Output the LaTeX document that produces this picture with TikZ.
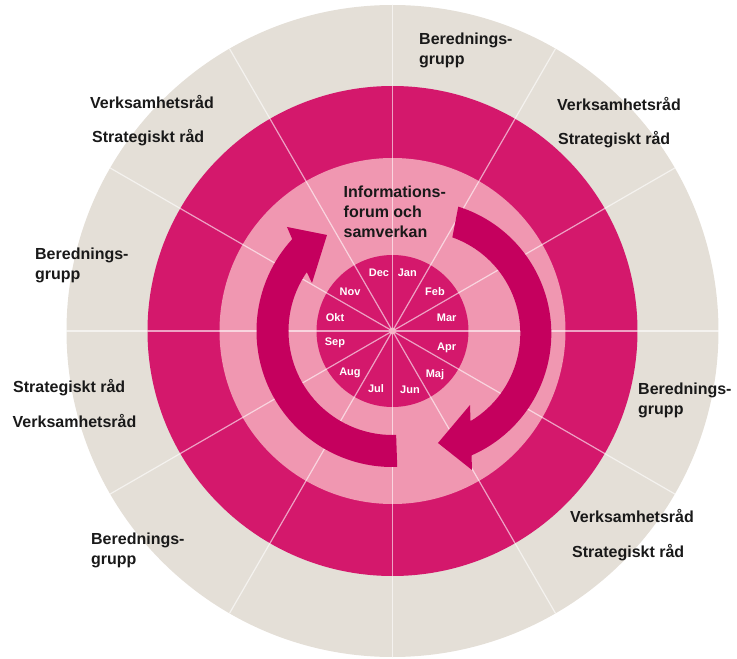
\documentclass[tikz,border=0pt]{standalone}
\usepackage{fontspec}
\setmainfont{Liberation Sans}
\usepackage{tikz}
\definecolor{beige}{HTML}{E4DFD7}
\definecolor{rosa}{HTML}{D4186C}
\definecolor{ljusrosa}{HTML}{F097B1}
\definecolor{pil}{HTML}{C5005E}
\tikzset{
  etikett/.style={anchor=base west, align=left, inner sep=0pt, text=black!90, font=\bfseries\fontsize{16}{20}\selectfont},
  manad/.style={text=white, inner sep=0pt, font=\bfseries\fontsize{11}{13}\selectfont},
  eker/.style={line width=1.2pt, color=white, opacity=0.6}
}

\begin{document}
\begin{tikzpicture}[x=1pt, y=1pt]
		%%%%% START %%%%%
		\useasboundingbox (-392.5, -328) rectangle (344.5, 331);
		
		\fill[beige] (0, 0) circle (326);
		\fill[rosa] (0, 0) circle (245);
		\fill[ljusrosa] (0, 0) circle (173);
		\fill[rosa] (0, 0) circle (76);
		
		% ekrar
		\draw[eker] (0:326) -- (180:326);
		\draw[eker] (30:326) -- (210:326);
		\draw[eker] (60:326) -- (240:326);
		\draw[eker] (90:326) -- (270:326);
		\draw[eker] (120:326) -- (300:326);
		\draw[eker] (150:326) -- (330:326);
		
		% vänster pil
		\fill[pil] (272:104) -- (272:136) arc[start angle=272, end angle=137.5, radius=136]
			-- (-105.5, 104) -- (-65.5, 96) -- (-80.5, 48)
			-- (145.5:104) arc[start angle=145.5, end angle=272, radius=104] -- cycle;
		
		% höger pil
		\begin{scope}[shift={(25.8, -2.5)}]
			\fill[pil] (70.5:102) -- (72.5:133) arc[start angle=72.5, end angle=-66.4, radius=133]
				-- (53.7, -136.5) -- (19.7, -109.5) -- (51.7, -71.5)
				-- (-59.2:102) arc[start angle=-59.2, end angle=70.5, radius=102] -- cycle;
		\end{scope}
		
		\fill[ljusrosa!70!white] (0, 0) circle (3.5);
		
		% månader
		\node[manad] (jan) at (14.8, 58.3) {Jan};
		\node[manad] (feb) at (42.5, 39.3) {Feb};
		\node[manad] (mar) at (54.2, 13.7) {Mar};
		\node[manad] (apr) at (54.2, -17.3) {Apr};
		\node[manad] (maj) at (42.5, -44) {Maj};
		\node[manad] (jun) at (17.5, -58.3) {Jun};
		\node[manad] (jul) at (-16.5, -57.3) {Jul};
		\node[manad] (aug) at (-42.5, -41.7) {Aug};
		\node[manad] (sep) at (-57.5, -11.7) {Sep};
		\node[manad] (okt) at (-57.5, 13.7) {Okt};
		\node[manad] (nov) at (-42.5, 39.3) {Nov};
		\node[manad] (dec) at (-13.5, 58.3) {Dec};
		
		\node[etikett] (info) at (-49, 93) {Informations-\\forum och\\samverkan};
		
		\node[etikett] (berTop) at (26.5, 266) {Berednings-\\grupp};
		\node[etikett] (verkTR) at (164.5, 220) {Verksamhetsråd};
		\node[etikett] (stratTR) at (165.5, 186) {Strategiskt råd};
		\node[etikett] (berR) at (245.5, -83) {Berednings-\\grupp};
		\node[etikett] (verkBR) at (177.5, -191) {Verksamhetsråd};
		\node[etikett] (stratBR) at (179.5, -226) {Strategiskt råd};
		\node[etikett] (berBL) at (-301.5, -233) {Berednings-\\grupp};
		\node[etikett] (stratL) at (-379.5, -61) {Strategiskt råd};
		\node[etikett] (verkL) at (-380, -96) {Verksamhetsråd};
		\node[etikett] (berL) at (-357.5, 52) {Berednings-\\grupp};
		\node[etikett] (verkTL) at (-302.5, 222) {Verksamhetsråd};
		\node[etikett] (stratTL) at (-300.5, 188) {Strategiskt råd};
		
		%%%%% END %%%%%
	\end{tikzpicture}
\end{document}
